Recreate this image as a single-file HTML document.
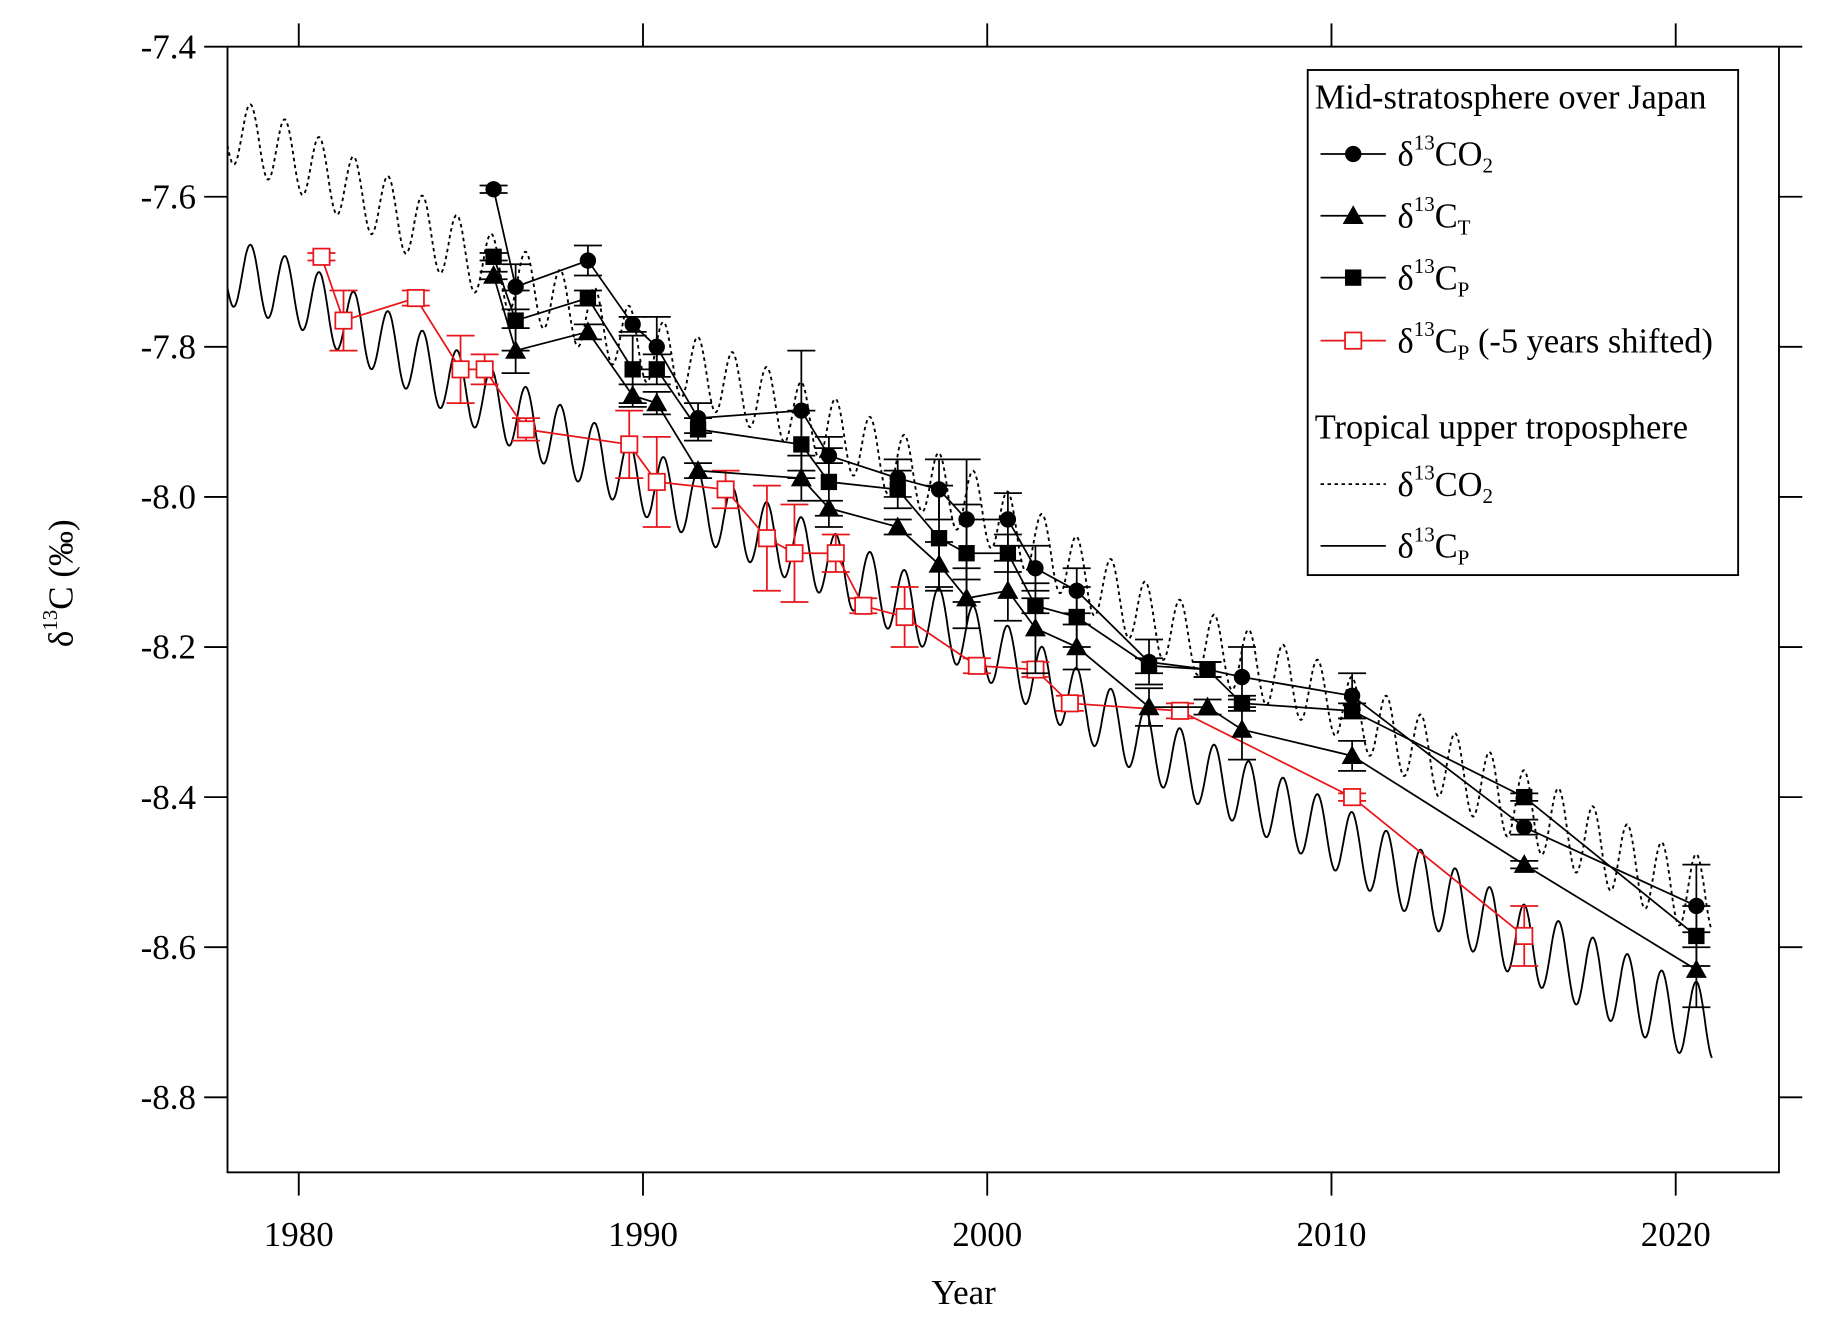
<!DOCTYPE html>
<html><head><meta charset="utf-8"><style>html,body{margin:0;padding:0;background:#fff}svg{display:block}text{font-family:"Liberation Serif",serif;fill:#000}</style></head>
<body>
<svg id="chart" width="1828" height="1324" viewBox="0 0 1567 1135" xmlns="http://www.w3.org/2000/svg">
<g id="plot"></g>
</svg>
<script>
// ---- data ----
const stratYears = [1985.66,1986.3,1988.4,1989.7,1990.4,1991.6,1994.6,1995.4,1997.4,1998.6,1999.4,2000.6,2001.4,2002.6,2004.7,2006.4,2007.4,2010.6,2015.6,2020.6];
const co2Vals = [-7.59,-7.72,-7.685,-7.77,-7.80,-7.895,-7.885,-7.945,-7.975,-7.99,-8.03,-8.03,-8.095,-8.125,-8.22,-8.23,-8.24,-8.265,-8.44,-8.545];
const co2Err = [0.005,0.03,0.02,0.01,0.04,0.02,0.08,0.01,0.025,0.04,0.08,0.035,0.03,0.03,0.03,0.01,0.04,0.03,0.01,0.055];
const ctVals = [-7.705,-7.805,-7.78,-7.865,-7.875,-7.965,-7.975,-8.015,-8.04,-8.09,-8.135,-8.125,-8.175,-8.20,-8.28,-8.28,-8.31,-8.345,-8.49,-8.63];
const ctErr = [0.005,0.03,0.01,0.015,0.015,0.01,0.03,0.01,0.01,0.03,0.04,0.04,0.06,0.03,0.025,0.01,0.04,0.02,0.005,0.05];
const cpVals = [-7.68,-7.765,-7.735,-7.83,-7.83,-7.91,-7.93,-7.98,-7.99,-8.055,-8.075,-8.075,-8.145,-8.16,-8.225,-8.23,-8.275,-8.285,-8.40,-8.585];
const cpErr = [0.005,0.04,0.01,0.045,0.02,0.015,0.045,0.06,0.025,0.07,0.065,0.025,0.01,0.04,0.01,0.01,0.01,0.01,0.005,0.04];
const shiftYears = 5;
const tropYears = [1978,1980,1985,1990,1995,2000,2005,2010,2015,2020,2021];
const tropCo2Trend = [-7.51,-7.55,-7.68,-7.80,-7.90,-8.02,-8.17,-8.27,-8.40,-8.52,-8.53];
const tropCpTrend = [-7.70,-7.73,-7.86,-7.98,-8.08,-8.20,-8.34,-8.45,-8.58,-8.69,-8.70];
const tropAmp = [0.045,0.045,0.045,0.045,0.045,0.045,0.045,0.045,0.05,0.05,0.05];
const xTicks = [1980,1990,2000,2010,2020];
const yTicks = [-7.4,-7.6,-7.8,-8.0,-8.2,-8.4,-8.6,-8.8];
const yTickLabels = ["-7.4","-7.6","-7.8","-8.0","-8.2","-8.4","-8.6","-8.8"];

// ---- axes ----
const L=195,R=1525,T=40,B=1005;
const xMin=1977.93,xMax=2023.0,yMin=-8.9,yMax=-7.4;
const X=v=>L+(v-xMin)/(xMax-xMin)*(R-L);
const Y=v=>T+(yMax-v)/(yMax-yMin)*(B-T);
const NS="http://www.w3.org/2000/svg";
const svg=document.getElementById('chart');
function mk(tag,attrs,parent){const e=document.createElementNS(NS,tag);for(const k in attrs)e.setAttribute(k,attrs[k]);(parent||svg).appendChild(e);return e;}
function interp(xs,ys,x){if(x<=xs[0])return ys[0];for(let i=1;i<xs.length;i++){if(x<=xs[i]){const t=(x-xs[i-1])/(xs[i]-xs[i-1]);return ys[i-1]+t*(ys[i]-ys[i-1]);}}return ys[ys.length-1];}

const defs=mk('defs',{});const cp=mk('clipPath',{id:'clip'},defs);mk('rect',{x:L,y:T,width:R-L,height:B-T},cp);
const plot=document.getElementById('plot');plot.setAttribute('clip-path','url(#clip)');

function tropPath(trend){let d='';for(let t=xMin;t<=2021.05;t+=0.02){const v=interp(tropYears,trend,t)+interp(tropYears,tropAmp,t)*Math.cos(2*Math.PI*(t-0.6));d+=(d?'L':'M')+X(t).toFixed(1)+','+Y(v).toFixed(1);}return d;}
let p=mk('path',{d:tropPath(tropCo2Trend),fill:'none',stroke:'#000','stroke-width':1.6,'stroke-dasharray':'3,3'},plot);


p=mk('path',{d:tropPath(tropCpTrend),fill:'none',stroke:'#000','stroke-width':1.6},plot);



function marker(type,cx,cy,color,g){let e;
 if(type==='circle')e=mk('circle',{cx,cy,r:7,fill:'#000'},g);
 else if(type==='tri')e=mk('polygon',{points:`${cx},${cy-9} ${cx+9},${cy+7} ${cx-9},${cy+7}`,fill:'#000'},g);
 else if(type==='sq')e=mk('rect',{x:cx-7,y:cy-7,width:14,height:14,fill:'#000'},g);
 else e=mk('rect',{x:cx-7,y:cy-7,width:14,height:14,fill:'#fff',stroke:color,'stroke-width':1.5},g);
 return e;}
function series(name,years,vals,errs,type,color){
 const g=mk('g',{},plot);
 
 
 mk('path',{d:years.map((y,i)=>(i?'L':'M')+X(y)+','+Y(vals[i])).join(''),fill:'none',stroke:color,'stroke-width':1.5},g);
 years.forEach((y,i)=>{const x=X(y),y1=Y(vals[i]+errs[i]),y2=Y(vals[i]-errs[i]);
  mk('path',{d:`M${x},${y1}L${x},${y2}M${x-12},${y1}L${x+12},${y1}M${x-12},${y2}L${x+12},${y2}`,stroke:color,'stroke-width':1.5,fill:'none'},g);});
 years.forEach((y,i)=>{const m=marker(type,X(y),Y(vals[i]),color,g);
  
  });
}
series('cp-shifted-series',stratYears.map(y=>y-shiftYears),cpVals,cpErr,'open','#e8161b');
series('ct-series',stratYears,ctVals,ctErr,'tri','#000');
series('cp-series',stratYears,cpVals,cpErr,'sq','#000');
series('co2-series',stratYears,co2Vals,co2Err,'circle','#000');

let f=mk('rect',{x:L,y:T,width:R-L,height:B-T,fill:'none',stroke:'#000','stroke-width':1.6});


xTicks.forEach(v=>{const x=X(v);
 mk('path',{d:`M${x},${T}L${x},${T-20}M${x},${B}L${x},${B+20}`,stroke:'#000','stroke-width':1.6});
 const t=mk('text',{x:x,y:1068,'font-size':30,'text-anchor':'middle'});t.textContent=v;
 
 });
yTicks.forEach((v,i)=>{const y=Y(v);
 mk('path',{d:`M${L},${y}L${L-20},${y}M${R},${y}L${R+20},${y}`,stroke:'#000','stroke-width':1.6});
 const t=mk('text',{x:168,y:y+10,'font-size':30,'text-anchor':'end'});t.textContent=yTickLabels[i];
 
 });
</script>
<svg style="position:absolute;left:0;top:0" width="1828" height="1324" viewBox="0 0 1567 1135" xmlns="http://www.w3.org/2000/svg">
<text x="826" y="1118" font-size="30" text-anchor="middle">Year</text>
<text transform="translate(62,500) rotate(-90)" font-size="30" text-anchor="middle">δ<tspan font-size="18" dy="-13">13</tspan><tspan dy="13">C (‰)</tspan></text>
<g>
<rect x="1121" y="60" width="369" height="433" fill="#fff" stroke="#000" stroke-width="1.6"/>
<text x="1127" y="93" font-size="29.5">Mid-stratosphere over Japan</text>
<g><path d="M1132,132H1188" stroke="#000" stroke-width="1.5"/><circle cx="1160" cy="132" r="7"/><text x="1198" y="142" font-size="29.5">δ<tspan font-size="18" dy="-14">13</tspan><tspan dy="14">CO</tspan><tspan font-size="18" dy="6">2</tspan></text></g>
<g><path d="M1132,185H1188" stroke="#000" stroke-width="1.5"/><polygon points="1160,176 1169,192 1151,192"/><text x="1198" y="195" font-size="29.5">δ<tspan font-size="18" dy="-14">13</tspan><tspan dy="14">C</tspan><tspan font-size="18" dy="6">T</tspan></text></g>
<g><path d="M1132,238H1188" stroke="#000" stroke-width="1.5"/><rect x="1153" y="231" width="14" height="14"/><text x="1198" y="248" font-size="29.5">δ<tspan font-size="18" dy="-14">13</tspan><tspan dy="14">C</tspan><tspan font-size="18" dy="6">P</tspan></text></g>
<g><path d="M1132,292H1188" stroke="#e8161b" stroke-width="1.5"/><rect x="1153" y="285" width="14" height="14" fill="#fff" stroke="#e8161b" stroke-width="1.5"/><text x="1198" y="302" font-size="29.5">δ<tspan font-size="18" dy="-14">13</tspan><tspan dy="14">C</tspan><tspan font-size="18" dy="6">P</tspan><tspan dy="-6"> (-5 years shifted)</tspan></text></g>
<text x="1127" y="376" font-size="29.5">Tropical upper troposphere</text>
<g><path d="M1132,415H1188" stroke="#000" stroke-width="1.5" stroke-dasharray="3,3"/><text x="1198" y="425" font-size="29.5">δ<tspan font-size="18" dy="-14">13</tspan><tspan dy="14">CO</tspan><tspan font-size="18" dy="6">2</tspan></text></g>
<g><path d="M1132,468H1188" stroke="#000" stroke-width="1.5"/><text x="1198" y="478" font-size="29.5">δ<tspan font-size="18" dy="-14">13</tspan><tspan dy="14">C</tspan><tspan font-size="18" dy="6">P</tspan></text></g>
</g>
</svg>
</body></html>
